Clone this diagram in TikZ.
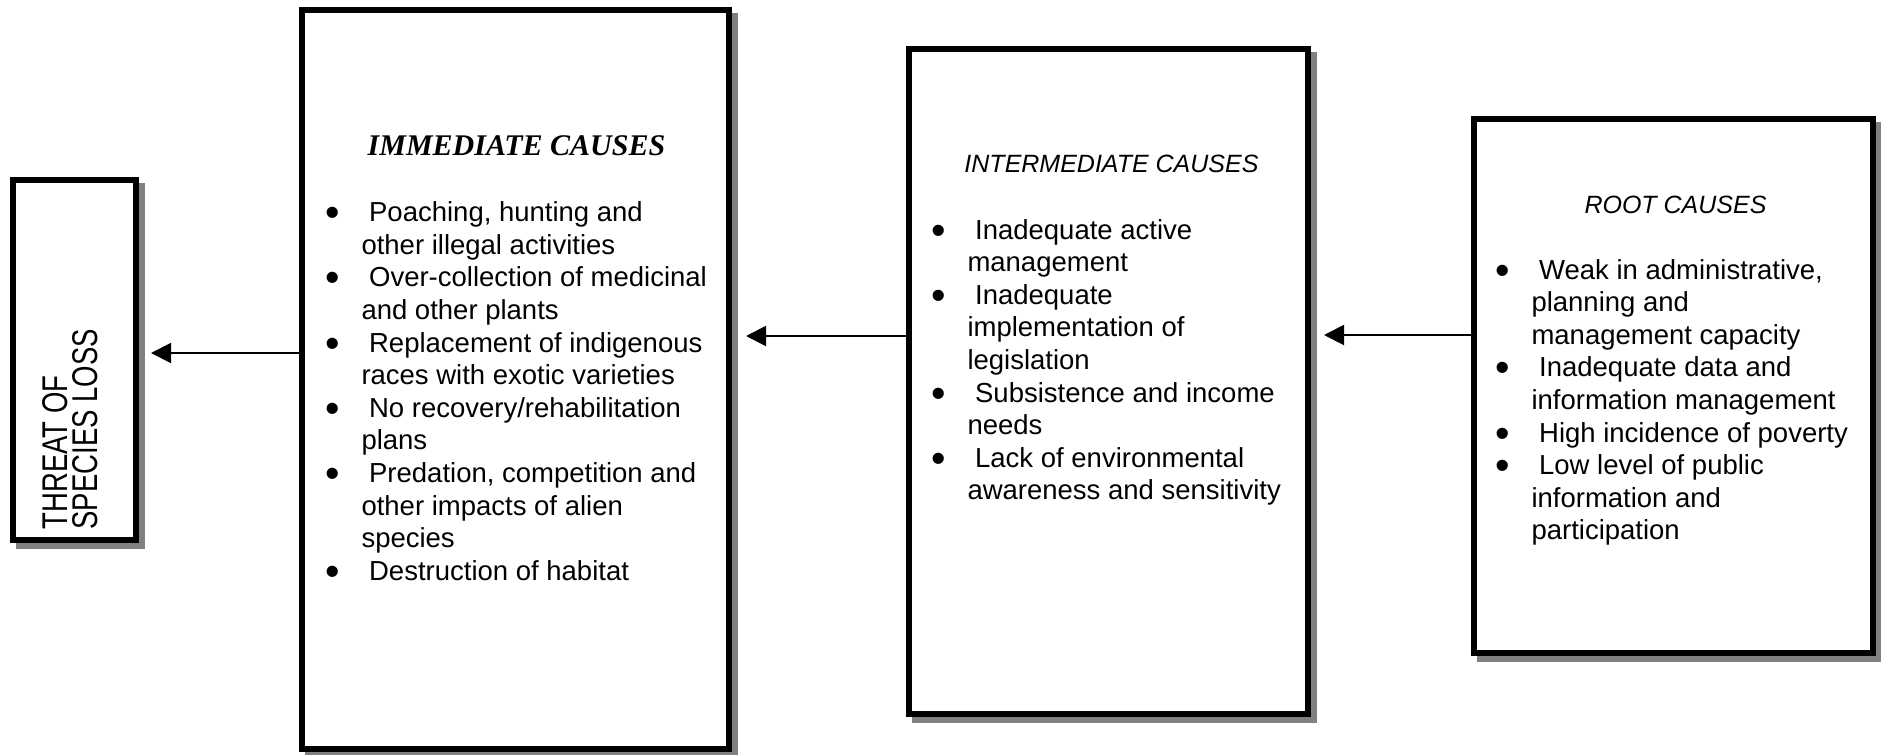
\documentclass[tikz,border=0pt]{standalone}
\usepackage{fontspec}
\setmainfont{Liberation Sans}
\newfontfamily\serifhead{Liberation Serif}
\usetikzlibrary{shapes,arrows.meta,calc,positioning,shadows}
\definecolor{shadowgray}{RGB}{128,128,128}
\tikzstyle{line} = [draw, line width=0.8pt, -{Triangle[length=8pt,width=8pt]}]
\tikzstyle{causebox} = [draw, rectangle, line width=2.4pt, fill=white, inner sep=0pt,
    drop shadow={shadow xshift=2.4pt, shadow yshift=-2.4pt, opacity=1, fill=shadowgray, draw=shadowgray, line width=2.4pt}]
\tikzstyle{heading} = [anchor=base, inner sep=0pt, font=\fontsize{10}{12}\selectfont\itshape]
\tikzstyle{bullets} = [anchor=base west, inner sep=0pt, font=\fontsize{11}{13.04}\selectfont]
\newcommand{\bul}{\makebox[13.6pt][l]{\hspace*{-0.9pt}\raisebox{-2pt}{\scalebox{1.5}{\textbullet}}}}

\begin{document}
\begin{tikzpicture}[x=0.4pt, y=-0.4pt]
        \useasboundingbox (0,0) rectangle (1881,754);
        % boxes
        \node[causebox, minimum width=49.2pt, minimum height=144pt] (threat) at (74.5,360) {};
        \node[causebox, minimum width=170.8pt, minimum height=295.6pt] (imm) at (515.5,379.5) {};
        \node[causebox, minimum width=159.6pt, minimum height=266pt] (int) at (1108.5,381.5) {};
        \node[causebox, minimum width=159.6pt, minimum height=213.6pt] (root) at (1673.5,386) {};
        % texts
        \node[rotate=90, anchor=base west, inner sep=0pt, font=\fontsize{11}{13}\selectfont] (threattext) at (97,530)
            {\scalebox{1}[1.3]{\parbox[b]{110pt}{\baselineskip=9.2pt THREAT OF\\SPECIES LOSS}}};
        \node[heading, font=\fontsize{12}{14}\selectfont\serifhead\bfseries\itshape] (immtitle) at (516.5,155.7) {IMMEDIATE CAUSES};
        \node[heading] (inttitle) at (1111.5,172) {INTERMEDIATE CAUSES};
        \node[heading] (roottitle) at (1675.5,213) {ROOT CAUSES};
        \node[bullets] (immlist) at (327,221.7) {\begin{tabular}[t]{@{}l@{}l@{}}
            \bul & \ Poaching, hunting and\\
                 & other illegal activities\\
            \bul & \ Over-collection of medicinal\\
                 & and other plants\\
            \bul & \ Replacement of indigenous\\
                 & races with exotic varieties\\
            \bul & \ No recovery/rehabilitation\\
                 & plans\\
            \bul & \ Predation, competition and\\
                 & other impacts of alien\\
                 & species\\
            \bul & \ Destruction of habitat
        \end{tabular}};
        \node[bullets] (intlist) at (933,239) {\begin{tabular}[t]{@{}l@{}l@{}}
            \bul & \ Inadequate active\\
                 & management\\
            \bul & \ Inadequate\\
                 & implementation of\\
                 & legislation\\
            \bul & \ Subsistence and income\\
                 & needs\\
            \bul & \ Lack of environmental\\
                 & awareness and sensitivity
        \end{tabular}};
        \node[bullets] (rootlist) at (1497,279) {\begin{tabular}[t]{@{}l@{}l@{}}
            \bul & \ Weak in administrative,\\
                 & planning and\\
                 & management capacity\\
            \bul & \ Inadequate data and\\
                 & information management\\
            \bul & \ High incidence of poverty\\
            \bul & \ Low level of public\\
                 & information and\\
                 & participation
        \end{tabular}};
        % arrows
        \coordinate (immout) at ([yshift=10.6pt]imm.west);
        \coordinate (intout) at ([yshift=18.2pt]int.west);
        \coordinate (rootout) at ([yshift=20.4pt]root.west);
        \path[line, shorten >=4.8pt] (immout) -- (immout -| threat.east);
        \path[line, shorten >=5.6pt] (intout) -- (intout -| imm.east);
        \path[line, shorten >=5.2pt] (rootout) -- (rootout -| int.east);
    \end{tikzpicture}
\end{document}
